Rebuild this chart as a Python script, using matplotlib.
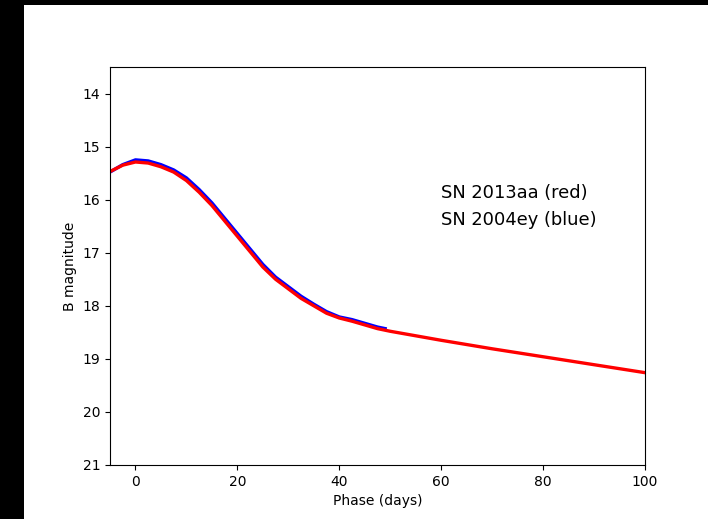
import matplotlib
matplotlib.use("Agg")
import matplotlib.pyplot as plt
from matplotlib.patches import Rectangle

# SN 2013aa (red) B-band light curve
red_phase = [-5, -2.5, 0, 2.5, 5, 7.5, 10, 12.5, 15, 17.5, 20, 22.5, 25, 27.5,
             30, 32.5, 35, 37.5, 40, 42.5, 45, 47.5, 50, 60, 70, 80, 90, 100]
red_mag = [15.47, 15.35, 15.29, 15.31, 15.38, 15.48, 15.64, 15.86, 16.11, 16.40,
           16.69, 16.98, 17.27, 17.50, 17.68, 17.86, 18.00, 18.14, 18.23, 18.29,
           18.36, 18.43, 18.48, 18.65, 18.81, 18.96, 19.11, 19.26]

# SN 2004ey (blue) B-band light curve
blue_phase = [-5, -2.5, 0, 2.5, 5, 7.5, 10, 12.5, 15, 17.5, 20, 22.5, 25, 27.5,
              30, 32.5, 35, 37.5, 40, 42.5, 45, 47.5, 49]
blue_mag = [15.48, 15.34, 15.25, 15.27, 15.34, 15.44, 15.59, 15.81, 16.06, 16.35,
            16.64, 16.93, 17.22, 17.46, 17.64, 17.82, 17.97, 18.11, 18.21, 18.26,
            18.33, 18.40, 18.43]

y_ticks = [14, 15, 16, 17, 18, 19, 20, 21]
x_ticks = [0, 20, 40, 60, 80, 100]

W, H = 708, 519
fig = plt.figure(figsize=(W / 100, H / 100), dpi=100)
fig.patch.set_facecolor("black")
fig.patches.append(Rectangle((24 / W, 0), 1 - 24 / W, 1 - 5 / H,
                             transform=fig.transFigure, facecolor="white",
                             edgecolor="none", zorder=-10))

ax = fig.add_axes([110 / W, (H - 465) / H, 535 / W, 398 / H])
ax.set_zorder(5)
ax.plot(blue_phase, blue_mag, color="blue", lw=2.4)
ax.plot(red_phase, red_mag, color="red", lw=2.4)

ax.set_xlim(-5, 100)
ax.set_ylim(21, 13.5)
ax.set_xticks(x_ticks)
ax.set_yticks(y_ticks)
ax.tick_params(labelsize=10)
ax.set_xlabel("Phase (days)", fontsize=10)
ax.set_ylabel("B magnitude", fontsize=10)

ax.text(60, 15.87, "SN 2013aa (red)", fontsize=12.9, va="center", ha="left")
ax.text(60, 16.38, "SN 2004ey (blue)", fontsize=12.9, va="center", ha="left")

fig.savefig("out.png", dpi=100, facecolor=fig.get_facecolor())
